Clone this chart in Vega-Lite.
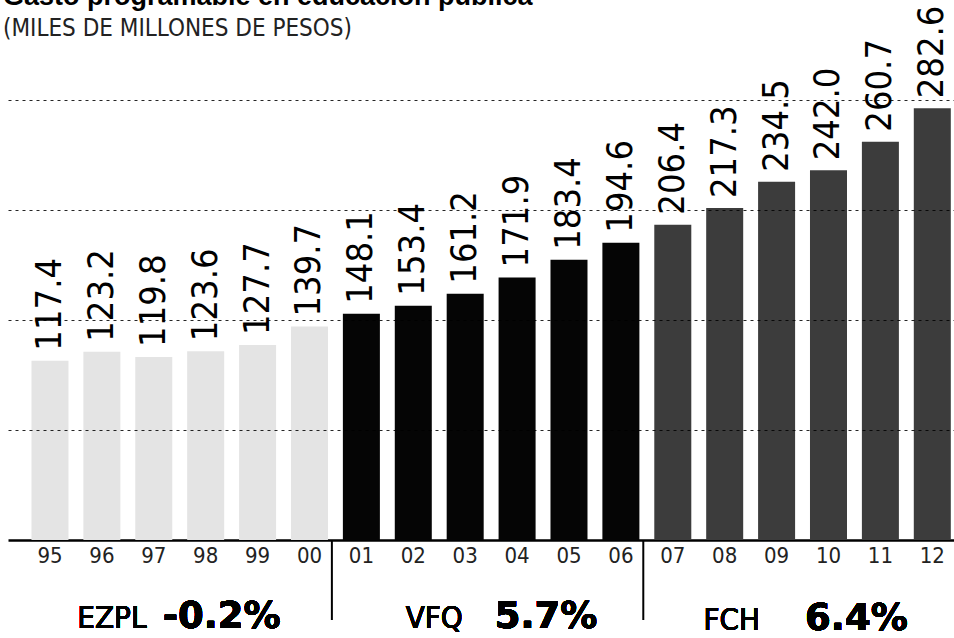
{
  "$schema": "https://vega.github.io/schema/vega-lite/v6.json",
  "width": 946,
  "height": 440,
  "autosize": {"type": "none"},
  "padding": {"left": 8, "top": 100, "right": 0, "bottom": 98},
  "background": "#ffffff",
  "title": {
    "text": "Gasto programable en educación pública",
    "subtitle": "(MILES DE MILLONES DE PESOS)",
    "anchor": "start",
    "font": "Liberation Sans",
    "fontWeight": "bold",
    "fontSize": 27,
    "color": "#000000",
    "subtitleFont": "DejaVu Sans Condensed, Liberation Sans",
    "subtitleFontSize": 24,
    "subtitleColor": "#222222",
    "subtitlePadding": 6,
    "offset": -36,
    "dx": -5
  },
  "data": {
    "values": [
      {"year": "95", "value": 117.4, "sexenio": "EZPL"},
      {"year": "96", "value": 123.2, "sexenio": "EZPL"},
      {"year": "97", "value": 119.8, "sexenio": "EZPL"},
      {"year": "98", "value": 123.6, "sexenio": "EZPL"},
      {"year": "99", "value": 127.7, "sexenio": "EZPL"},
      {"year": "00", "value": 139.7, "sexenio": "EZPL"},
      {"year": "01", "value": 148.1, "sexenio": "VFQ"},
      {"year": "02", "value": 153.4, "sexenio": "VFQ"},
      {"year": "03", "value": 161.2, "sexenio": "VFQ"},
      {"year": "04", "value": 171.9, "sexenio": "VFQ"},
      {"year": "05", "value": 183.4, "sexenio": "VFQ"},
      {"year": "06", "value": 194.6, "sexenio": "VFQ"},
      {"year": "07", "value": 206.4, "sexenio": "FCH"},
      {"year": "08", "value": 217.3, "sexenio": "FCH"},
      {"year": "09", "value": 234.5, "sexenio": "FCH"},
      {"year": "10", "value": 242.0, "sexenio": "FCH"},
      {"year": "11", "value": 260.7, "sexenio": "FCH"},
      {"year": "12", "value": 282.6, "sexenio": "FCH"}
    ]
  },
  "encoding": {
    "x": {
      "field": "year",
      "type": "nominal",
      "sort": null,
      "scale": {
        "domain": ["95","96","97","98","99","00","01","02","03","04","05","06","07","08","09","10","11","12"],
        "paddingInner": 0.287,
        "paddingOuter": 0.257,
        "align": 0.88
      },
      "axis": {
        "title": null,
        "labelAngle": 0,
        "labelFont": "DejaVu Sans Condensed, Liberation Sans",
        "labelFontSize": 22,
        "labelColor": "#222222",
        "labelPadding": 5,
        "ticks": false,
        "domain": true,
        "domainColor": "#000000",
        "domainWidth": 2.5,
        "grid": false
      }
    }
  },
  "layer": [
    {
      "mark": {"type": "bar"},
      "encoding": {
        "y": {
          "field": "value",
          "type": "quantitative",
          "scale": {"domain": [0, 288], "nice": false, "zero": true},
          "axis": {
            "title": null,
            "labels": false,
            "ticks": false,
            "domain": false,
            "grid": true,
            "values": [72, 144, 216, 288],
            "gridColor": "#000000",
            "gridDash": [3, 4],
            "gridWidth": 1.2,
            "gridOpacity": 0.85,
            "zindex": 1
          }
        },
        "color": {
          "field": "sexenio",
          "type": "nominal",
          "scale": {"domain": ["EZPL", "VFQ", "FCH"], "range": ["#e4e4e4", "#050505", "#3c3c3c"]},
          "legend": null
        }
      }
    },
    {
      "mark": {
        "type": "text",
        "angle": 270,
        "align": "left",
        "baseline": "middle",
        "dx": 10,
        "font": "DejaVu Sans Condensed, Liberation Sans",
        "fontSize": 36,
        "color": "#000000"
      },
      "encoding": {
        "y": {"field": "value", "type": "quantitative"},
        "text": {"field": "value", "type": "quantitative", "format": ".1f"}
      }
    },
    {
      "data": {"values": [{"boundary": "01"}, {"boundary": "07"}]},
      "mark": {"type": "rule", "color": "#000000", "strokeWidth": 2, "xOffset": -11, "y2Offset": 80},
      "encoding": {
        "x": {"field": "boundary", "type": "nominal", "bandPosition": 0},
        "y": {"datum": 0},
        "y2": {"datum": 0}
      }
    },
    {
      "mark": {"type": "text", "align": "center", "baseline": "alphabetic", "font": "DejaVu Sans Condensed, Liberation Sans", "fontSize": 31, "color": "#000000", "dx": 10, "yOffset": 88},
      "encoding": {"x": {"datum": "96", "type": "nominal"}, "y": {"datum": 0}, "text": {"value": "EZPL"}}
    },
    {
      "mark": {"type": "text", "align": "center", "baseline": "alphabetic", "font": "DejaVu Sans", "fontWeight": "bold", "fontSize": 37, "color": "#000000", "dx": 16, "yOffset": 88},
      "encoding": {"x": {"datum": "98", "type": "nominal"}, "y": {"datum": 0}, "text": {"value": "-0.2%"}}
    },
    {
      "mark": {"type": "text", "align": "center", "baseline": "alphabetic", "font": "DejaVu Sans Condensed, Liberation Sans", "fontSize": 31, "color": "#000000", "dx": 21, "yOffset": 88},
      "encoding": {"x": {"datum": "02", "type": "nominal"}, "y": {"datum": 0}, "text": {"value": "VFQ"}}
    },
    {
      "mark": {"type": "text", "align": "center", "baseline": "alphabetic", "font": "DejaVu Sans", "fontWeight": "bold", "fontSize": 37, "color": "#000000", "dx": 29, "yOffset": 88},
      "encoding": {"x": {"datum": "04", "type": "nominal"}, "y": {"datum": 0}, "text": {"value": "5.7%"}}
    },
    {
      "mark": {"type": "text", "align": "center", "baseline": "alphabetic", "font": "DejaVu Sans Condensed, Liberation Sans", "fontSize": 31, "color": "#000000", "dx": 7, "yOffset": 90},
      "encoding": {"x": {"datum": "08", "type": "nominal"}, "y": {"datum": 0}, "text": {"value": "FCH"}}
    },
    {
      "mark": {"type": "text", "align": "center", "baseline": "alphabetic", "font": "DejaVu Sans", "fontWeight": "bold", "fontSize": 37, "color": "#000000", "dx": -24, "yOffset": 90},
      "encoding": {"x": {"datum": "11", "type": "nominal"}, "y": {"datum": 0}, "text": {"value": "6.4%"}}
    }
  ],
  "config": {
    "view": {"stroke": null},
    "font": "DejaVu Sans Condensed, Liberation Sans"
  }
}
